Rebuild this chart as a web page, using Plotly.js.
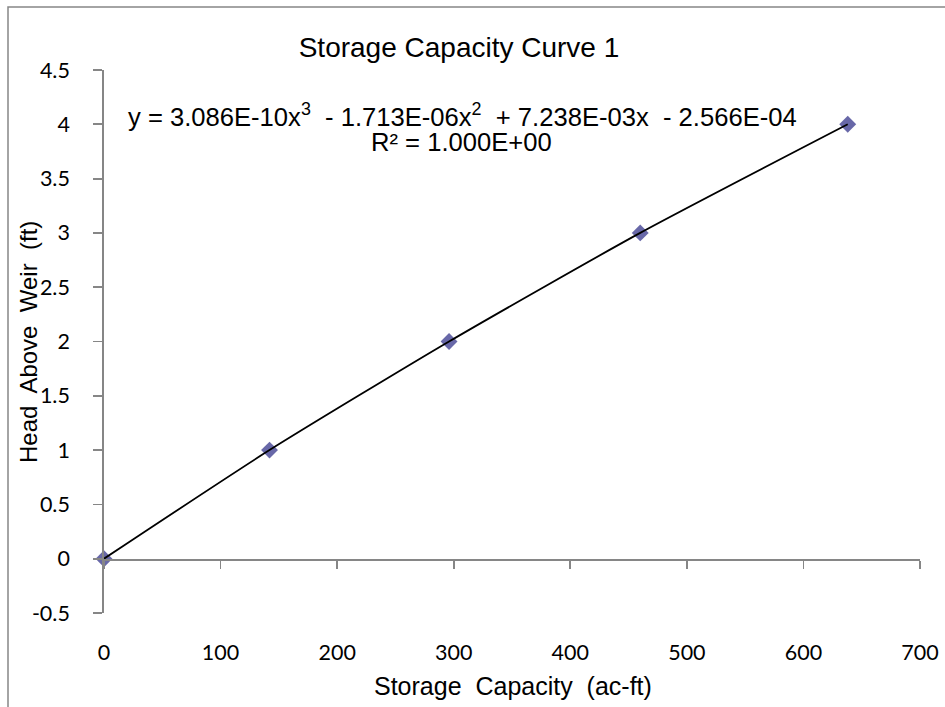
<!DOCTYPE html>
<html>
<head>
<meta charset="utf-8">
<script src="https://cdn.plot.ly/plotly-3.0.1.min.js"></script>
<style>
html,body{margin:0;padding:0;background:#fff;}
#chart{width:945px;height:707px;}
</style>
</head>
<body>
<div id="chart"></div>
<script>
// Data
var storageCapacity = [0, 142, 296, 460, 638];   // ac-ft
var headAboveWeir   = [0, 1, 2, 3, 4];           // ft
var xTicks = [0, 100, 200, 300, 400, 500, 600, 700];
var yTicks = [-0.5, 0, 0.5, 1, 1.5, 2, 2.5, 3, 3.5, 4, 4.5];
var chartTitle = "Storage Capacity Curve 1";
var xTitle = "Storage\u00a0 Capacity\u00a0 (ac-ft)";
var yTitle = "Head\u00a0 Above\u00a0 Weir\u00a0 (ft)";
var eqLine1 = "y = 3.086E-10x<sup>3</sup>\u00a0 - 1.713E-06x<sup>2</sup>\u00a0 + 7.238E-03x\u00a0 - 2.566E-04";
var eqLine2 = "R² = 1.000E+00";

var axisGray = "#868686";
var tickFont = {family: "Lato, 'Open Sans', sans-serif", size: 21.5, color: "#000"};
var arialFont = "'Liberation Sans', Arial, sans-serif";

// plot area in pixels (for placing text annotations)
var PL = 104, PR = 920, PT = 70, PB = 613;
function px2paperX(px) { return (px - PL) / (PR - PL); }
function px2paperY(py) { return (PB - py) / (PB - PT); }

var trend = {
  x: storageCapacity, y: headAboveWeir,
  xaxis: "x2", yaxis: "y",
  mode: "lines", type: "scatter",
  line: {color: "#000", width: 1.8, shape: "spline", smoothing: 0.6},
  hoverinfo: "skip", showlegend: false
};
var points = {
  x: storageCapacity, y: headAboveWeir,
  xaxis: "x", yaxis: "y",
  mode: "markers", type: "scatter",
  marker: {symbol: "diamond", size: 13, color: "#6868A8", line: {width: 0}},
  cliponaxis: false, showlegend: false
};

var layout = {
  width: 945, height: 707,
  margin: {l: PL, r: 945 - PR, t: PT, b: 707 - PB, pad: 0},
  paper_bgcolor: "#fff", plot_bgcolor: "#fff",
  showlegend: false,
  title: {
    text: chartTitle,
    font: {family: arialFont, size: 28, color: "#000"},
    x: 459 / 945, xanchor: "center", xref: "container",
    y: 1 - 47 / 707, yanchor: "middle", yref: "container"
  },
  // axis line drawn through y = 0 with its tick marks
  xaxis: {
    range: [0, 700], tickvals: xTicks, showticklabels: false,
    showgrid: false, zeroline: false,
    showline: true, linecolor: axisGray, linewidth: 1.8,
    ticks: "outside", ticklen: 8, tickcolor: axisGray, tickwidth: 1.8,
    anchor: "free", position: 0.1
  },
  // labels at the bottom of the plot area
  xaxis2: {
    range: [0, 700], tickvals: xTicks, ticktext: xTicks.map(String),
    overlaying: "x", matches: "x", anchor: "y", side: "bottom",
    showgrid: false, zeroline: false, showline: false, ticks: "",
    tickfont: tickFont, ticklabelstandoff: 24
  },
  yaxis: {
    range: [-0.5, 4.5], tickvals: yTicks, ticktext: yTicks.map(String),
    showgrid: false, zeroline: false,
    showline: true, linecolor: axisGray, linewidth: 1.8,
    ticks: "outside", ticklen: 9, tickcolor: axisGray, tickwidth: 1.8,
    tickfont: tickFont, ticklabelstandoff: 19
  },
  annotations: [
    {text: eqLine1, xref: "paper", yref: "paper", x: px2paperX(462), y: px2paperY(115),
     xanchor: "center", yanchor: "middle", showarrow: false,
     font: {family: arialFont, size: 25.6, color: "#000"}},
    {text: eqLine2, xref: "paper", yref: "paper", x: px2paperX(461), y: px2paperY(142),
     xanchor: "center", yanchor: "middle", showarrow: false,
     font: {family: arialFont, size: 25.6, color: "#000"}},
    {text: xTitle, xref: "paper", yref: "paper", x: px2paperX(513), y: px2paperY(686),
     xanchor: "center", yanchor: "middle", showarrow: false,
     font: {family: arialFont, size: 25, color: "#000"}},
    {text: yTitle, xref: "paper", yref: "paper", x: px2paperX(28), y: px2paperY(342),
     xanchor: "center", yanchor: "middle", showarrow: false, textangle: -90,
     font: {family: arialFont, size: 24, color: "#000"}}
  ],
  shapes: [
    {type: "rect", xref: "paper", yref: "paper",
     x0: px2paperX(8), x1: px2paperX(960), y0: px2paperY(720), y1: px2paperY(7),
     line: {color: axisGray, width: 1.5}, fillcolor: "rgba(0,0,0,0)", layer: "below"}
  ]
};

Plotly.newPlot("chart", [trend, points], layout, {staticPlot: true, displayModeBar: false});
</script>
</body>
</html>
